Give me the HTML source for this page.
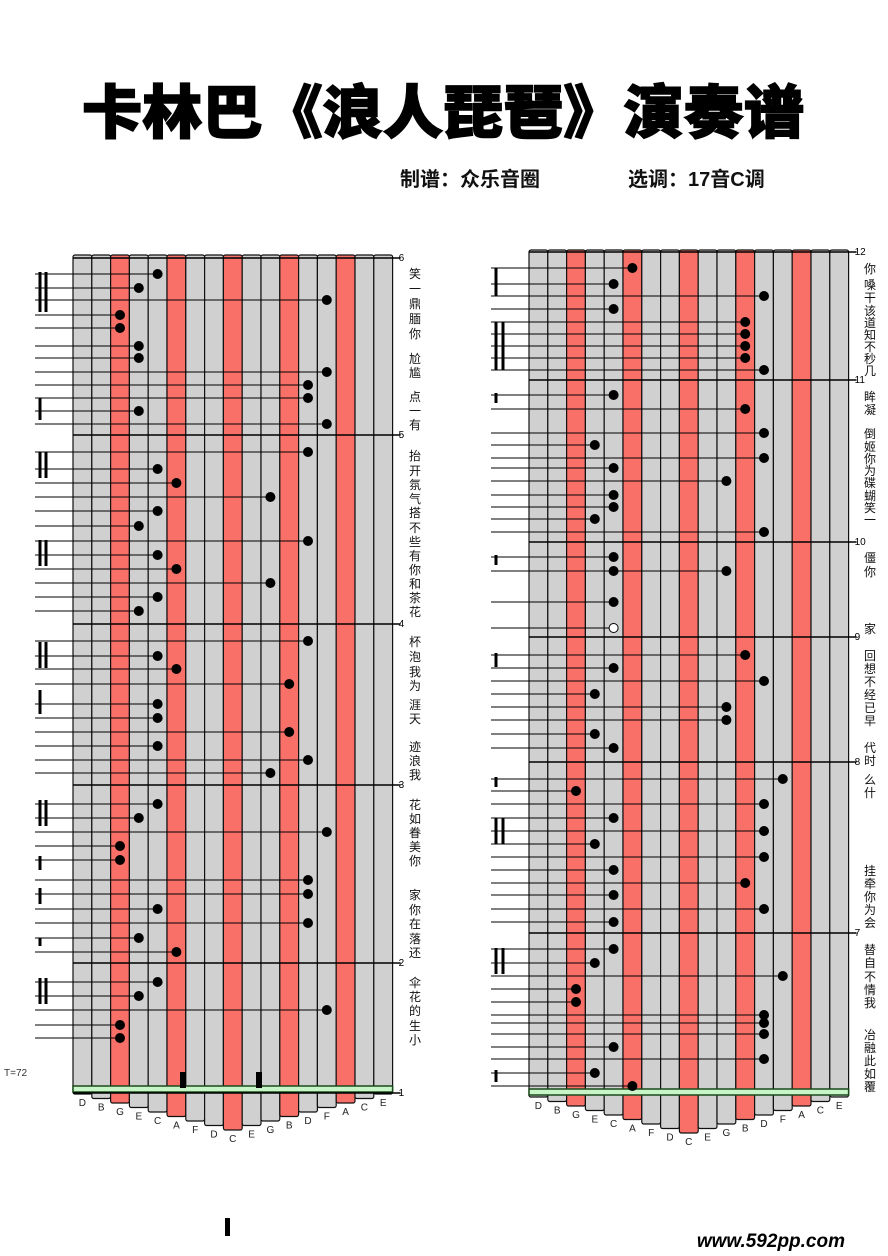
<!DOCTYPE html>
<html><head><meta charset="utf-8"><style>
body{margin:0;background:#fff;width:888px;height:1256px;overflow:hidden;font-family:"Liberation Sans","Noto Sans CJK SC",sans-serif}
svg{position:absolute;left:0;top:0}
</style></head><body>
<svg id="s" width="888" height="1256" xmlns="http://www.w3.org/2000/svg">
<text x="443" y="133" text-anchor="middle" font-family="'Noto Sans CJK SC',sans-serif" font-weight="900" font-size="58" fill="#000" stroke="#000" stroke-width="1.5" textLength="722" lengthAdjust="spacingAndGlyphs">卡林巴《浪人琵琶》演奏谱</text>
<text x="400" y="186" font-family="'Noto Sans CJK SC',sans-serif" font-weight="700" font-size="20" fill="#111">制谱：众乐音圈</text>
<text x="628" y="186" font-family="'Liberation Sans','Noto Sans CJK SC',sans-serif" font-weight="700" font-size="20" fill="#111">选调：17音C调</text>
<text x="4" y="1076" font-size="10" fill="#333">T=72</text>
<rect x="225" y="1218" width="5" height="18" fill="#000"/>
<text x="845" y="1247" text-anchor="end" font-style="italic" font-weight="700" font-size="19" fill="#000">www.592pp.com</text>
</svg>
<script>
const s=document.getElementById('s');const NS='http://www.w3.org/2000/svg';
function e(t,a,txt){const n=document.createElementNS(NS,t);for(const k in a)n.setAttribute(k,a[k]);if(txt)n.textContent=txt;s.appendChild(n);return n}
const names=['D','B','G','E','C','A','F','D','C','E','G','B','D','F','A','C','E'];
function chart(x0,top,green,bars,notes,lyr,lx){
 const w=18.8;
 for(let i=0;i<17;i++){
  const d=Math.abs(i-8);const end=green+40-d*4.5;
  const red=[2,5,8,11,14].includes(i);
  e('rect',{x:x0+i*w,y:top,width:w,height:end-top,fill:red?'#f87068':'#d0d0d0',stroke:'#111','stroke-width':1.2,rx:2});
  e('text',{x:x0+i*w+w/2,y:end+12,'text-anchor':'middle','font-size':10,fill:'#222'},names[i]);
 }
 e('rect',{x:x0,y:green-4,width:17*w,height:6,fill:'#c8f5c8',stroke:'#1a4a1a','stroke-width':1.5});
 bars.forEach(b=>{e('line',{x1:x0,x2:x0+17*w+8,y1:b[0],y2:b[0],stroke:'#000','stroke-width':1.5});e('text',{x:x0+17*w+6,y:b[0]+3,'font-size':10},b[1])});
 notes.forEach(n=>{const cx=x0+n[1]*w+w/2;
  e('line',{x1:x0-38,x2:cx,y1:n[0],y2:n[0],stroke:'#000','stroke-width':1});
  e('circle',{cx:cx,cy:n[0],r:4.5,fill:n[2]?'#fff':'#000',stroke:'#000'});});
 lyr.forEach(l=>e('text',{x:lx,y:l[0]+5,'text-anchor':'middle','font-size':12,fill:'#111'},l[1]));
}
chart(73,255,1090,[[258,'6'],[435,'5'],[624,'4'],[785,'3'],[963,'2'],[1093,'1']],
[[274,4],[288,3],[300,13],[315,2],[328,2],[346,3],[358,3],[372,13],[385,12],[398,12],[411,3],[424,13],
[452,12],[469,4],[483,5],[497,10],[511,4],[526,3],[541,12],[555,4],[569,5],[583,10],[597,4],[611,3],
[641,12],[656,4],[669,5],[684,11],[704,4],[718,4],[732,11],[746,4],[760,12],[773,10],
[804,4],[818,3],[832,13],[846,2],[860,2],[880,12],[894,12],[909,4],[923,12],[938,3],[952,5],
[982,4],[996,3],[1010,13],[1025,2],[1038,2]],
[[273,'笑'],[288,'一'],[303,'鼎'],[318,'腼'],[333,'你'],[358,'尬'],[372,'尴'],[396,'点'],[410,'一'],[424,'有'],[455,'抬'],[470,'开'],[484,'氛'],[498,'气'],[512,'搭'],[527,'不'],[541,'些'],[555,'有'],[569,'你'],[583,'和'],[597,'茶'],[611,'花'],[641,'杯'],[656,'泡'],[671,'我'],[685,'为'],[704,'涯'],[718,'天'],[746,'迹'],[760,'浪'],[774,'我'],[804,'花'],[818,'如'],[832,'眷'],[846,'美'],[860,'你'],[894,'家'],[909,'你'],[923,'在'],[938,'落'],[952,'还'],[982,'伞'],[996,'花'],[1010,'的'],[1025,'生'],[1039,'小']],415);
chart(529,250,1093,[[252,'12'],[380,'11'],[542,'10'],[637,'9'],[762,'8'],[933,'7']],
[[268,5],[284,4],[296,12],[309,4],[322,11],[334,11],[346,11],[358,11],[370,12],
[395,4],[409,11],[433,12],[445,3],[458,12],[468,4],[481,10],[495,4],[507,4],[519,3],[532,12],
[557,4],[571,4],[571,10],[602,4],[628,4,1],
[655,11],[668,4],[681,12],[694,3],[707,10],[720,10],[734,3],[748,4],
[779,13],[791,2],[804,12],[818,4],[831,12],[844,3],[857,12],[870,4],[883,11],[895,4],[909,12],[922,4],
[949,4],[963,3],[976,13],[989,2],[1002,2],[1015,12],[1023,12],[1034,12],[1047,4],[1059,12],[1073,3],[1086,5]],
[[268,'你'],[284,'嗓'],[297,'干'],[310,'该'],[322,'道'],[334,'知'],[346,'不'],[358,'秒'],[370,'几'],[396,'眸'],[409,'凝'],[433,'倒'],[446,'姬'],[458,'你'],[470,'为'],[482,'碟'],[495,'蝴'],[507,'笑'],[519,'一'],[557,'僵'],[571,'你'],[628,'家'],[655,'回'],[668,'想'],[681,'不'],[694,'经'],[707,'已'],[720,'早'],[747,'代'],[760,'时'],[779,'么'],[792,'什'],[870,'挂'],[883,'牵'],[896,'你'],[909,'为'],[922,'会'],[949,'替'],[962,'自'],[976,'不'],[989,'情'],[1002,'我'],[1034,'冶'],[1047,'融'],[1060,'此'],[1073,'如'],[1086,'覆']],870);
[[40,272,312],[46,272,312],[40,398,420],[40,452,478],[46,452,478],[40,540,566],[46,540,566],[40,642,668],[46,642,668],[40,690,714],[40,800,826],[46,800,826],[40,856,870],[40,888,904],[40,938,946],[40,978,1004],[46,978,1004],
[496,268,296],[496,322,370],[503,322,370],[496,393,403],[496,555,565],[496,653,667],[496,777,787],[496,818,844],[503,818,844],[496,948,974],[503,948,974],[496,1070,1082]].forEach(r=>e('line',{x1:r[0],x2:r[0],y1:r[1],y2:r[2],stroke:'#000','stroke-width':3}));
e('rect',{x:180,y:1072,width:6,height:16,fill:'#000'});e('rect',{x:256,y:1072,width:6,height:16,fill:'#000'});
</script>
</body></html>
